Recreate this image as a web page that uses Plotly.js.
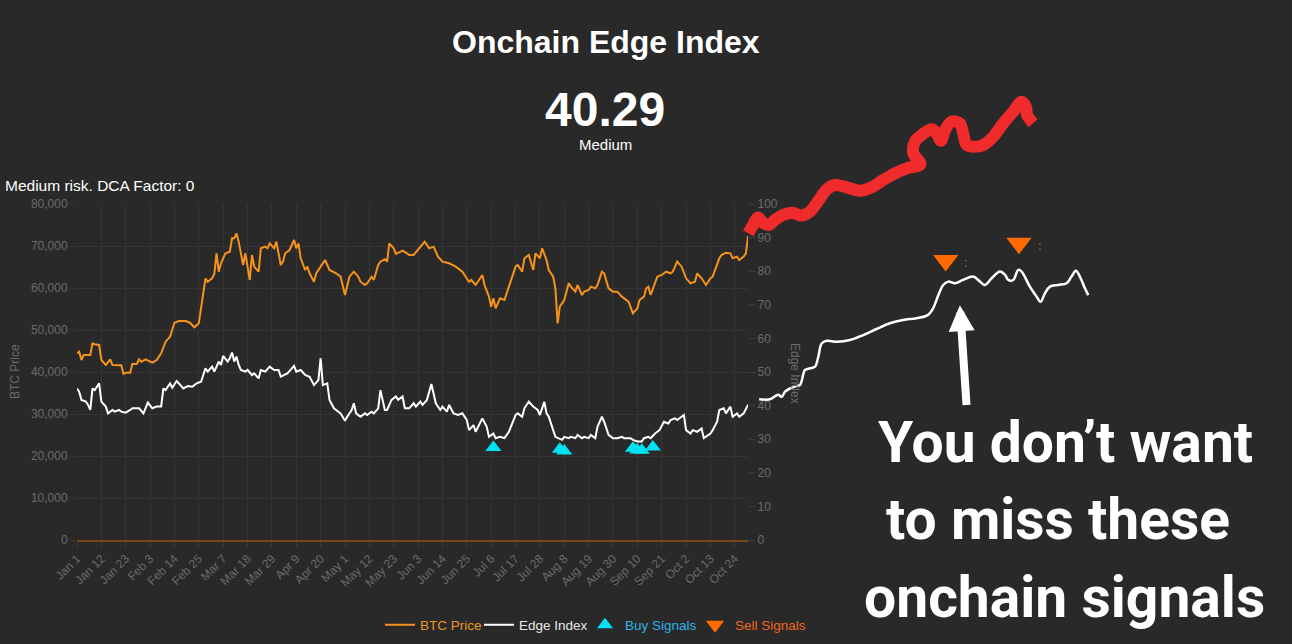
<!DOCTYPE html>
<html>
<head>
<meta charset="utf-8">
<script src="https://cdn.plot.ly/plotly-3.0.1.min.js"></script>
<style>
  html, body { margin: 0; padding: 0; background: #292929; }
  #chart { width: 1292px; height: 644px; }
</style>
</head>
<body>
<div id="chart"></div>
<script>
// ---------------- DATA ----------------
const priceDates = ['2024-01-01','2024-01-02','2024-01-03','2024-01-04','2024-01-05','2024-01-07','2024-01-08','2024-01-09','2024-01-11','2024-01-12','2024-01-14','2024-01-16','2024-01-17','2024-01-19','2024-01-21','2024-01-22','2024-01-23','2024-01-25','2024-01-26','2024-01-28','2024-01-29','2024-01-30','2024-02-01','2024-02-04','2024-02-06','2024-02-08','2024-02-10','2024-02-12','2024-02-13','2024-02-14','2024-02-16','2024-02-19','2024-02-21','2024-02-23','2024-02-25','2024-02-26','2024-02-27','2024-02-28','2024-02-29','2024-03-02','2024-03-03','2024-03-04','2024-03-05','2024-03-06','2024-03-08','2024-03-10','2024-03-11','2024-03-12','2024-03-13','2024-03-14','2024-03-16','2024-03-17','2024-03-18','2024-03-19','2024-03-20','2024-03-21','2024-03-23','2024-03-24','2024-03-26','2024-03-27','2024-03-28','2024-03-30','2024-03-31','2024-04-02','2024-04-03','2024-04-04','2024-04-06','2024-04-08','2024-04-09','2024-04-10','2024-04-11','2024-04-13','2024-04-14','2024-04-15','2024-04-17','2024-04-18','2024-04-20','2024-04-22','2024-04-24','2024-04-27','2024-04-29','2024-05-01','2024-05-03','2024-05-05','2024-05-07','2024-05-08','2024-05-10','2024-05-11','2024-05-13','2024-05-14','2024-05-16','2024-05-17','2024-05-19','2024-05-20','2024-05-21','2024-05-23','2024-05-24','2024-05-27','2024-05-29','2024-05-30','2024-06-01','2024-06-03','2024-06-06','2024-06-08','2024-06-10','2024-06-12','2024-06-14','2024-06-17','2024-06-20','2024-06-23','2024-06-26','2024-06-27','2024-06-29','2024-07-02','2024-07-03','2024-07-05','2024-07-06','2024-07-07','2024-07-08','2024-07-10','2024-07-12','2024-07-14','2024-07-17','2024-07-18','2024-07-20','2024-07-21','2024-07-23','2024-07-25','2024-07-26','2024-07-28','2024-07-29','2024-07-31','2024-08-01','2024-08-03','2024-08-04','2024-08-05','2024-08-06','2024-08-08','2024-08-10','2024-08-11','2024-08-13','2024-08-14','2024-08-16','2024-08-17','2024-08-19','2024-08-20','2024-08-22','2024-08-23','2024-08-25','2024-08-26','2024-08-28','2024-08-30','2024-09-01','2024-09-03','2024-09-04','2024-09-06','2024-09-08','2024-09-10','2024-09-11','2024-09-13','2024-09-14','2024-09-15','2024-09-16','2024-09-18','2024-09-19','2024-09-21','2024-09-23','2024-09-25','2024-09-26','2024-09-28','2024-09-30','2024-10-02','2024-10-04','2024-10-06','2024-10-07','2024-10-09','2024-10-11','2024-10-13','2024-10-14','2024-10-17','2024-10-18','2024-10-20','2024-10-22','2024-10-23','2024-10-25','2024-10-26','2024-10-28','2024-10-29','2024-10-30'];
const priceValues = [44450,44840,42860,44050,44050,44050,46830,46600,46430,42860,41670,43020,41670,41590,41590,39520,39840,39840,41900,41900,43020,42460,43020,42220,42860,44450,47220,48410,49840,51740,52140,52140,51740,50640,51590,55550,59520,62310,61500,62310,63330,68260,63880,65880,68260,68650,71830,71830,73020,71030,65480,68260,65080,61910,67860,65080,63880,69450,69840,69450,70640,69450,71030,65480,66270,68260,69050,71430,69450,70640,67070,64290,65080,63500,61500,63500,65080,66670,64290,63500,62690,58330,62690,63880,62690,61500,60720,61110,62690,61910,65480,66270,66830,66270,70640,69450,68100,68890,68260,67860,67860,69050,71030,69450,69840,67460,66270,65880,65080,63880,61500,61910,60720,63100,60720,57940,55550,57550,55170,57550,57140,60320,65080,65480,63880,67070,67860,64290,68260,67070,69450,66670,64290,62690,59920,51590,55550,57140,61110,60320,59130,60720,58330,59130,59520,60320,59920,60720,63880,63500,59920,59130,59130,57940,57550,56740,53980,55170,57140,57940,59920,60320,58330,61110,62690,63100,63880,63500,63880,66270,65080,62310,61110,61500,63500,62310,60720,62310,62690,67070,67860,68410,68260,67070,67460,66670,67460,68260,72400];

const edgeDates = ['2024-01-01','2024-01-02','2024-01-03','2024-01-05','2024-01-06','2024-01-07','2024-01-08','2024-01-09','2024-01-10','2024-01-11','2024-01-12','2024-01-14','2024-01-15','2024-01-17','2024-01-18','2024-01-20','2024-01-21','2024-01-23','2024-01-25','2024-01-26','2024-01-28','2024-01-29','2024-01-31','2024-02-02','2024-02-04','2024-02-06','2024-02-08','2024-02-09','2024-02-10','2024-02-12','2024-02-13','2024-02-15','2024-02-16','2024-02-18','2024-02-20','2024-02-22','2024-02-24','2024-02-26','2024-02-28','2024-02-29','2024-03-02','2024-03-03','2024-03-05','2024-03-06','2024-03-07','2024-03-09','2024-03-10','2024-03-11','2024-03-12','2024-03-13','2024-03-14','2024-03-15','2024-03-17','2024-03-18','2024-03-20','2024-03-21','2024-03-23','2024-03-24','2024-03-26','2024-03-28','2024-03-30','2024-04-01','2024-04-02','2024-04-05','2024-04-08','2024-04-09','2024-04-11','2024-04-13','2024-04-15','2024-04-17','2024-04-19','2024-04-20','2024-04-21','2024-04-23','2024-04-24','2024-04-26','2024-04-29','2024-05-01','2024-05-02','2024-05-04','2024-05-05','2024-05-06','2024-05-08','2024-05-10','2024-05-11','2024-05-13','2024-05-14','2024-05-16','2024-05-17','2024-05-19','2024-05-20','2024-05-22','2024-05-24','2024-05-25','2024-05-27','2024-05-28','2024-05-30','2024-06-01','2024-06-02','2024-06-04','2024-06-05','2024-06-07','2024-06-09','2024-06-10','2024-06-11','2024-06-13','2024-06-14','2024-06-16','2024-06-17','2024-06-19','2024-06-21','2024-06-23','2024-06-25','2024-06-26','2024-06-28','2024-06-29','2024-07-01','2024-07-02','2024-07-04','2024-07-05','2024-07-07','2024-07-08','2024-07-10','2024-07-12','2024-07-14','2024-07-17','2024-07-18','2024-07-20','2024-07-21','2024-07-23','2024-07-25','2024-07-27','2024-07-28','2024-07-30','2024-07-31','2024-08-01','2024-08-03','2024-08-04','2024-08-07','2024-08-08','2024-08-10','2024-08-11','2024-08-13','2024-08-14','2024-08-16','2024-08-17','2024-08-19','2024-08-20','2024-08-22','2024-08-23','2024-08-25','2024-08-26','2024-08-28','2024-08-30','2024-09-01','2024-09-03','2024-09-04','2024-09-07','2024-09-08','2024-09-10','2024-09-12','2024-09-13','2024-09-15','2024-09-16','2024-09-18','2024-09-20','2024-09-22','2024-09-24','2024-09-25','2024-09-27','2024-09-28','2024-10-01','2024-10-02','2024-10-04','2024-10-05','2024-10-07','2024-10-09','2024-10-10','2024-10-13','2024-10-14','2024-10-16','2024-10-17','2024-10-19','2024-10-20','2024-10-22','2024-10-23','2024-10-25','2024-10-26','2024-10-28','2024-10-29','2024-10-30'];
const edgeValues = [45.1,44.1,41.7,41.2,40.2,38.7,45.1,44.6,45.6,46.6,41.2,39.7,37.7,38.7,38.2,38.7,38.2,37.9,38.7,39.2,39.2,39.2,37.7,40.9,39.2,39.7,39.7,45.1,44.6,46.6,45.3,47.3,46.6,45.1,45.8,45.6,46.6,47.1,51.1,50.1,51.6,50.1,53.1,52.1,54.8,53.1,54.1,55.8,53.1,54.6,52.1,50.6,50.1,50.6,49.1,49.6,48.1,50.6,50.1,51.6,50.6,50.6,48.6,49.6,51.8,50.1,50.6,49.1,48.6,46.1,47.6,54.1,46.1,46.6,41.7,39.2,37.7,35.5,36.7,38.7,40.7,37.7,36.7,37.7,37.2,38.2,37.7,39.2,44.6,38.7,38.7,41.7,42.7,41.7,42.7,39.2,39.2,40.7,39.7,41.2,40.2,41.7,46.4,43.7,40.7,38.7,39.7,38.2,40.2,37.7,37.2,37.7,35.7,32.7,34.2,32.2,35.2,36.2,33.7,30.7,31.7,30.3,30.7,30.3,32.2,37.2,37.7,36.7,39.2,41.2,39.7,38.7,37.2,41.1,37.7,36.7,32.7,30.7,29.8,30.7,30.3,30.7,30.3,31.3,30.3,30.7,30.3,31.3,30.3,33.7,36.7,35.2,31.3,30.3,30.3,30.7,30.3,30.3,29.8,29.3,29.3,30.3,30.7,30.3,31.7,32.7,35.2,34.7,35.7,36.2,35.7,37.2,32.7,31.7,32.7,32.2,33.2,30.3,31.7,32.7,35.2,38.7,39.2,37.7,39.7,36.7,37.7,36.7,37.7,39.2,40.29];

const buyDates = ['2024-07-07','2024-08-06','2024-08-08','2024-09-08','2024-09-10','2024-09-12','2024-09-17'];
const buyValues = [27.5,27.0,26.5,27.3,26.8,26.7,27.7];

const sellDates = ['2025-01-27 05:00','2025-03-01 07:00'];
const sellValues = [83.2,88.3];

// hand-drawn projection (price continuation, red)
const projPriceDates = ['2024-10-30 02:00','2024-11-01 05:00','2024-11-03 10:00','2024-11-05 17:00','2024-11-08 10:00','2024-11-11 02:00','2024-11-14 17:00','2024-11-18 19:00','2024-11-23 07:00','2024-11-26 22:00','2024-11-30 12:00','2024-12-04 14:00','2024-12-08 05:00','2024-12-13 12:00','2024-12-19 12:00','2024-12-24 19:00','2024-12-30 00:00','2025-01-04 07:00','2025-01-09 14:00','2025-01-15 19:00','2025-01-12 14:00','2025-01-13 07:00','2025-01-16 10:00','2025-01-20 22:00','2025-01-23 02:00','2025-01-25 02:00','2025-01-26 22:00','2025-01-29 22:00','2025-02-02 14:00','2025-02-04 02:00','2025-02-05 17:00','2025-02-08 14:00','2025-02-13 05:00','2025-02-17 17:00','2025-02-22 05:00','2025-02-26 17:00','2025-03-02 12:00','2025-03-04 10:00','2025-03-05 00:00','2025-03-07 17:00'];
const projPriceValues = [73030,75000,76810,75550,75000,76190,77380,77930,77240,78170,80570,83500,84530,83980,83170,83980,85720,87310,88500,89500,92070,94840,96430,97790,96840,95070,97620,99600,99220,96840,94050,93640,94050,96030,99220,101980,104360,103170,101190,99220];

// hand-drawn projection (edge index continuation, white)
const projEdgeDates = ['2024-11-04 00:00','2024-11-08 22:00','2024-11-12 14:00','2024-11-14 05:00','2024-11-15 14:00','2024-11-17 22:00','2024-11-20 14:00','2024-11-22 10:00','2024-11-24 17:00','2024-11-26 22:00','2024-11-29 05:00','2024-11-30 17:00','2024-12-02 05:00','2024-12-04 12:00','2024-12-09 00:00','2024-12-15 00:00','2024-12-21 00:00','2024-12-27 00:00','2025-01-02 00:00','2025-01-08 00:00','2025-01-14 02:00','2025-01-19 07:00','2025-01-21 14:00','2025-01-23 22:00','2025-01-26 02:00','2025-01-28 10:00','2025-01-31 10:00','2025-02-04 02:00','2025-02-08 14:00','2025-02-11 17:00','2025-02-13 22:00','2025-02-17 00:00','2025-02-20 17:00','2025-02-23 00:00','2025-02-24 12:00','2025-02-26 17:00','2025-03-01 00:00','2025-03-02 12:00','2025-03-06 05:00','2025-03-09 07:00','2025-03-11 02:00','2025-03-13 00:00','2025-03-15 07:00','2025-03-19 00:00','2025-03-22 19:00','2025-03-25 00:00','2025-03-27 00:00','2025-03-28 19:00','2025-03-31 02:00','2025-04-01 14:00'];
const projEdgeValues = [41.9,41.9,43.2,42.6,44.1,45.1,45.8,46.1,50.6,51.1,51.6,54.6,58.5,59.3,59.0,59.5,61.0,62.8,64.5,65.5,66.0,67.0,69.0,72.9,75.9,76.9,76.4,77.4,78.4,76.9,75.9,77.9,79.9,78.9,77.4,77.4,80.4,79.9,75.4,72.4,70.9,73.4,75.4,75.9,76.4,78.4,80.1,78.4,74.9,72.9];

const xRange = ['2024-01-01','2024-10-30'];
const priceRange = [0, 80000];
const edgeRange = [0, 100];

// ---------------- LAYOUT HELPERS ----------------
const W = 1292, H = 644;
const BG = '#292929';
const GRID = '#353535';
const TICK = '#6b6b6b';
const FONT = 'Liberation Sans, Arial, Helvetica, sans-serif';
const xDom = [77 / W, 748.1 / W];
const yDom = [(H - 540) / H, (H - 204) / H];

function extend(r, dom) {
  const s = (r[1] - r[0]) / (dom[1] - dom[0]);
  return [r[0] - dom[0] * s, r[1] + (1 - dom[1]) * s];
}
function fmt(t) {
  const d = new Date(t);
  const p = n => String(n).padStart(2, '0');
  return d.getUTCFullYear() + '-' + p(d.getUTCMonth() + 1) + '-' + p(d.getUTCDate()) + ' ' +
    p(d.getUTCHours()) + ':' + p(d.getUTCMinutes()) + ':' + p(d.getUTCSeconds());
}
const x0ms = Date.parse(xRange[0] + 'T00:00:00Z'), x1ms = Date.parse(xRange[1] + 'T00:00:00Z');
const fullX = extend([x0ms, x1ms], xDom).map(fmt);
const fullPrice = extend(priceRange, yDom);
const fullEdge = extend(edgeRange, yDom);

const traces = [
  { x: priceDates, y: priceValues, type: 'scatter', mode: 'lines', xaxis: 'x', yaxis: 'y',
    name: '<span style="color:#f0961e">BTC Price</span>', legendwidth: 54,
    line: { color: '#f7931a', width: 2 } },
  { x: edgeDates, y: edgeValues, type: 'scatter', mode: 'lines', xaxis: 'x', yaxis: 'y2',
    name: '<span style="color:#e8e8e8">Edge Index</span>', legendwidth: 61,
    line: { color: '#ffffff', width: 2 } },
  { x: buyDates, y: buyValues, type: 'scatter', mode: 'markers', xaxis: 'x', yaxis: 'y2',
    name: '<span style="color:#2db3e8">Buy Signals</span>', legendwidth: 65,
    marker: { symbol: 'triangle-up', size: 14, color: '#00e2f2' } },
  { x: sellDates, y: sellValues, type: 'scatter', mode: 'markers', xaxis: 'x2', yaxis: 'y4',
    name: '<span style="color:#f26522">Sell Signals</span>', legendwidth: 75,
    marker: { symbol: 'triangle-down', size: 22, color: '#ff6a00' } },
  { x: projPriceDates, y: projPriceValues, type: 'scatter', mode: 'lines', xaxis: 'x2', yaxis: 'y3',
    showlegend: false, line: { color: '#ef2b2b', width: 12, shape: 'spline', smoothing: 1 } },
  { x: projEdgeDates, y: projEdgeValues, type: 'scatter', mode: 'lines', xaxis: 'x2', yaxis: 'y4',
    showlegend: false, line: { color: '#ffffff', width: 2.5, shape: 'spline', smoothing: 1 } }
];

const py = v => 1 - v / H;
const px = v => v / W;

const layout = {
  width: W, height: H,
  margin: { l: 0, r: 0, t: 0, b: 0 },
  paper_bgcolor: BG, plot_bgcolor: 'rgba(0,0,0,0)',
  font: { family: FONT, color: TICK, size: 12 },
  showlegend: true,
  legend: {
    orientation: 'h', x: px(380), xanchor: 'left', y: py(625), yanchor: 'middle',
    font: { family: FONT, size: 13.5, color: '#e8e8e8' }, bgcolor: 'rgba(0,0,0,0)',
    itemwidth: 30, traceorder: 'normal'
  },
  xaxis: {
    type: 'date', domain: xDom, range: xRange, anchor: 'y',
    tick0: '2024-01-01', dtick: 11 * 86400000, tickformat: '%b %-d', tickangle: -45,
    tickfont: { family: FONT, size: 12, color: TICK },
    showgrid: true, gridcolor: GRID, gridwidth: 1,
    ticks: 'outside', ticklen: 5, tickcolor: '#3c3c3c',
    showline: true, linecolor: '#7a4517', linewidth: 2, zeroline: false, fixedrange: true
  },
  yaxis: {
    domain: yDom, range: priceRange, anchor: 'x', tick0: 0, dtick: 10000, tickformat: ',d',
    tickfont: { family: FONT, size: 12, color: TICK },
    showgrid: true, gridcolor: GRID, gridwidth: 1,
    ticks: 'outside', ticklen: 6, tickcolor: GRID, zeroline: false, showline: false, fixedrange: true
  },
  yaxis2: {
    overlaying: 'y', side: 'right', anchor: 'x', range: edgeRange, tick0: 0, dtick: 10,
    tickfont: { family: FONT, size: 12, color: TICK },
    showgrid: false, ticks: 'outside', ticklen: 6, tickcolor: '#3c3c3c',
    zeroline: false, showline: false, fixedrange: true
  },
  xaxis2: { type: 'date', domain: [0, 1], range: fullX, anchor: 'y3', visible: false, fixedrange: true },
  yaxis3: { domain: [0, 1], range: fullPrice, anchor: 'x2', visible: false, fixedrange: true },
  yaxis4: { domain: [0, 1], range: fullEdge, anchor: 'x2', overlaying: 'y3', visible: false, fixedrange: true },
  annotations: [
    { text: '<b>Onchain Edge Index</b>', xref: 'paper', yref: 'paper', x: px(606), y: py(42),
      xanchor: 'center', yanchor: 'middle', showarrow: false,
      font: { family: FONT, size: 32, color: '#ffffff' } },
    { text: '<b>40.29</b>', xref: 'paper', yref: 'paper', x: px(605), y: py(110),
      xanchor: 'center', yanchor: 'middle', showarrow: false,
      font: { family: FONT, size: 48, color: '#ffffff' } },
    { text: 'Medium', xref: 'paper', yref: 'paper', x: px(605), y: py(145),
      xanchor: 'center', yanchor: 'middle', showarrow: false,
      font: { family: FONT, size: 15, color: '#ffffff' } },
    { text: 'Medium risk. DCA Factor: 0', xref: 'paper', yref: 'paper', x: px(3), y: py(185),
      xanchor: 'left', yanchor: 'middle', showarrow: false,
      font: { family: FONT, size: 15.5, color: '#ffffff' } },
    { text: 'BTC Price', xref: 'paper', yref: 'paper', x: px(15), y: py(372),
      xanchor: 'center', yanchor: 'middle', showarrow: false, textangle: -90,
      font: { family: FONT, size: 12, color: TICK } },
    { text: 'Edge Index', xref: 'paper', yref: 'paper', x: px(795), y: py(373),
      xanchor: 'center', yanchor: 'middle', showarrow: false, textangle: 90,
      font: { family: FONT, size: 12, color: TICK } },
    { text: 'You don’t want', xref: 'paper', yref: 'paper', x: px(1065), y: py(442),
      xanchor: 'center', yanchor: 'middle', showarrow: false,
      font: { family: 'Roboto', size: 57, weight: 700, color: '#ffffff' } },
    { text: 'to miss these', xref: 'paper', yref: 'paper', x: px(1058), y: py(519),
      xanchor: 'center', yanchor: 'middle', showarrow: false,
      font: { family: 'Roboto', size: 57, weight: 700, color: '#ffffff' } },
    { text: 'onchain signals', xref: 'paper', yref: 'paper', x: px(1064), y: py(597),
      xanchor: 'center', yanchor: 'middle', showarrow: false,
      font: { family: 'Roboto', size: 57, weight: 700, color: '#ffffff' } },
    { text: '', xref: 'x2', yref: 'y4', axref: 'x2', ayref: 'y4',
      x: '2025-02-02 15:00', y: 69.9, ax: '2025-02-05 16:00', ay: 39.7,
      showarrow: true, arrowhead: 2, arrowsize: 0.65, arrowwidth: 8, arrowcolor: '#ffffff', standoff: 0 },
    { text: ':', xref: 'paper', yref: 'paper', x: px(965), y: py(263),
      xanchor: 'center', yanchor: 'middle', showarrow: false,
      font: { family: FONT, size: 12, color: '#ff6a00' } },
    { text: ':', xref: 'paper', yref: 'paper', x: px(1039), y: py(246),
      xanchor: 'center', yanchor: 'middle', showarrow: false,
      font: { family: FONT, size: 12, color: '#ff6a00' } }
  ]
};

Plotly.newPlot('chart', traces, layout, { displayModeBar: false, responsive: false });
</script>
</body>
</html>
